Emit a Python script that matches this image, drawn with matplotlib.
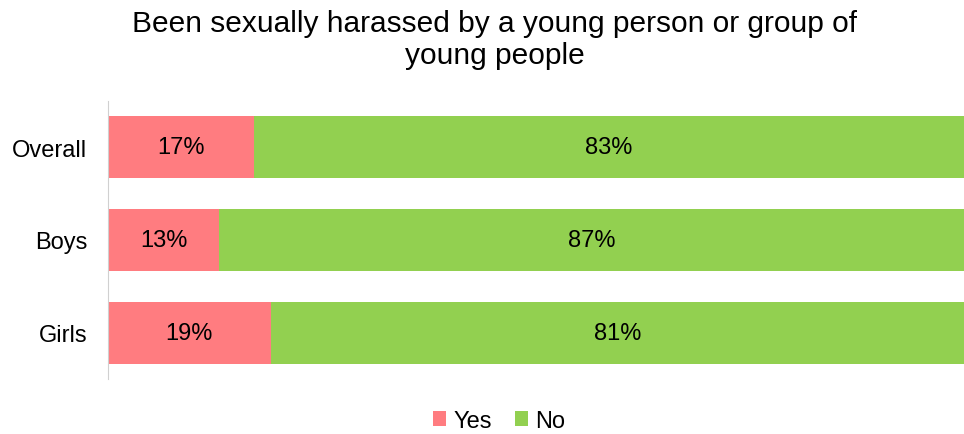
import numpy as np
import matplotlib.pyplot as plt

plt.rcParams['font.family'] = ['Liberation Sans', 'DejaVu Sans']

groups = ["Overall", "Boys", "Girls"]
yes_vals = [17, 13, 19]
no_vals = [83, 87, 81]

fig = plt.figure(figsize=(9.64, 4.35), dpi=100)
ax = fig.add_axes([108/964, 55/435, 856/964, 278/435])

y = np.arange(len(groups))
h = 0.67
b1 = ax.barh(y, yes_vals, height=h, color="#FF7C80", label="Yes")
b2 = ax.barh(y, no_vals, left=yes_vals, height=h, color="#92D050", label="No")

for i in range(len(groups)):
    ax.text(yes_vals[i] / 2, y[i], f"{yes_vals[i]}%", ha="center", va="center", fontsize=17)
    ax.text(yes_vals[i] + no_vals[i] / 2, y[i], f"{no_vals[i]}%", ha="center", va="center", fontsize=17)

ax.set_xlim(0, 100)
ax.set_ylim(2.5, -0.5)
ax.set_yticks(y)
ax.set_yticklabels(groups, fontsize=17)
ax.tick_params(axis="y", length=0, pad=15)
ax.set_xticks([])
for s in ["top", "right", "bottom"]:
    ax.spines[s].set_visible(False)
ax.spines["left"].set_color("#D0D0D0")

fig.text(0.513, 0.908, "Been sexually harassed by a young person or group of\nyoung people",
         ha="center", va="center", fontsize=21.5, linespacing=1.2)

fig.legend(handles=[b1, b2], loc="center", bbox_to_anchor=(0.518, 0.03), ncol=2, frameon=False,
           fontsize=17, handlelength=0.55, handleheight=0.55, handletextpad=0.3, columnspacing=1.0)

fig.savefig("out.png", dpi=100)
